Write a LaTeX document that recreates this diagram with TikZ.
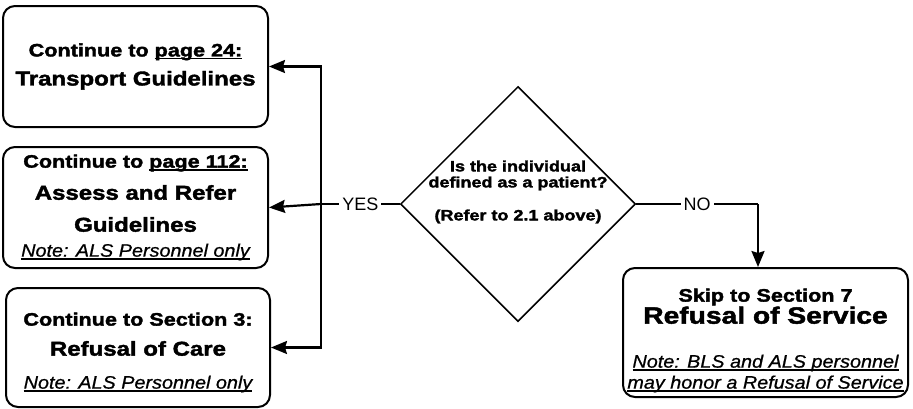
\documentclass[tikz,border=0pt]{standalone}
\usepackage{fontspec}
\setmainfont{Liberation Sans}
\newfontfamily\heavyfont[BoldFeatures={FakeStretch=1.2,FakeBold=2}]{Liberation Sans}
\newfontfamily\notefont[ItalicFeatures={FakeStretch=1.1,FakeBold=0.8}]{Liberation Sans}
\usetikzlibrary{shapes.geometric,arrows.meta}
\newcommand{\smallhead}{\heavyfont\bfseries\fontsize{18}{22}\selectfont}
\newcommand{\bighead}{\heavyfont\bfseries\fontsize{20}{24}\selectfont}
\newcommand{\notetext}{\notefont\itshape\fontsize{18}{22}\selectfont}
\newcommand{\ulinetext}[1]{\setbox0=\hbox{#1}\rlap{\rule[-3pt]{\wd0}{1.3pt}}\box0}
\tikzset{
  guidebox/.style={
    draw,
    line width = 2pt,
    rounded corners = 12pt,
    align = center,
    inner sep = 0pt,
    font = \fontsize{18}{30}\selectfont,
    minimum width = 265pt,
    minimum height = 121pt
  },
  decision/.style={
    draw,
    shape = diamond,
    aspect = 1,
    line width = 1.5pt,
    inner sep = 0pt,
    minimum width = 235pt,
    minimum height = 235pt
  },
}
\tikzset{
  flow/.style={
    line width = 2.2pt,
    -{Stealth[length=16pt,width=13pt,inset=2pt]}
  },
  link/.style={
    line width = 2.2pt
  },
  answer/.style={
    fill = white,
    inner sep = 3pt,
    font = \fontsize{18}{20}\selectfont
  }
}

\begin{document}
\begin{tikzpicture}[x=1pt, y=-1pt]
\useasboundingbox (0,0) rectangle (913,408);
% left column of boxes
\node[guidebox] (transport) at (135.5,66.5)
  {{\smallhead Continue to \ulinetext{page 24:}}\\[-1pt]
   {\bighead Transport Guidelines}};
\node[guidebox] (assess) at (135.5,207.5)
  {{\smallhead Continue to \ulinetext{page 112:}}\\[2pt]
   {\bighead Assess and Refer}\\[2pt]
   {\bighead Guidelines}\\[-5pt]
   {\notetext\ulinetext{Note: ALS Personnel only}}};
\node[guidebox, minimum width=264pt, minimum height=119pt] (refcare) at (138,347.5)
  {{\smallhead\rule{0pt}{23pt}Continue to Section 3:}\\[0pt]
   {\bighead Refusal of Care}\\[3pt]
   {\notetext\ulinetext{Note: ALS Personnel only}}};
% decision
\node[decision] (decide) at (518,204) {};
\node[align=center, font=\heavyfont\bfseries\fontsize{15}{16}\selectfont] (question) at (518,192)
  {Is the individual\\defined as a patient?\\[17pt](Refer to 2.1 above)};
% right box
\node[guidebox, minimum width=285pt, minimum height=129pt] (refservice) at (765.5,332.5)
  {{\smallhead\rule{0pt}{29pt}Skip to Section 7}\\[-8pt]
   {\heavyfont\bfseries\fontsize{23.5}{26}\selectfont Refusal of Service}\\[14pt]
   {\notetext\ulinetext{Note: BLS and ALS personnel}}\\[-9pt]
   {\notetext\ulinetext{may honor a Refusal of Service}}};
% connectors
\coordinate (yesjoin) at (321,204);
\coordinate (nobend) at (758,204);
\draw[link] (decide.west) -- node[answer] (yes) {YES} (yesjoin);
\draw[flow] (yesjoin) -- (assess.east);
\draw[flow] (yesjoin) |- (transport.east);
\draw[flow] (yesjoin) |- (refcare.east);
\draw[link] (decide.east) -- node[answer] (no) {NO} (nobend);
\draw[flow] (nobend) -- (nobend |- refservice.north);
\end{tikzpicture}
\end{document}
